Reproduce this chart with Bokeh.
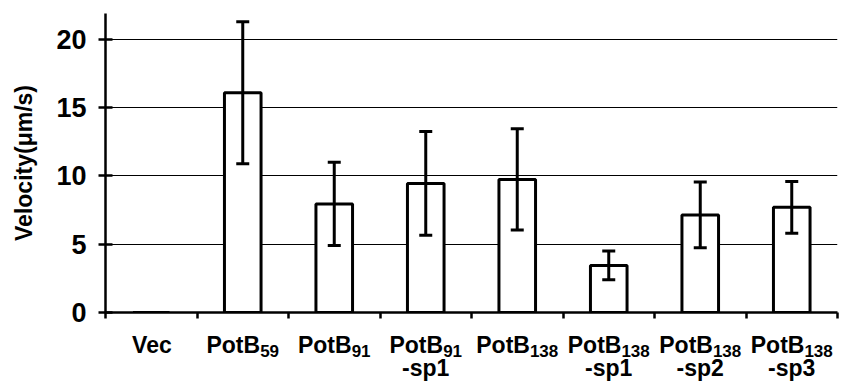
import numpy as np
from bokeh.plotting import figure
from bokeh.layouts import column
from bokeh.models import ColumnDataSource, Range1d, FixedTicker, Whisker, TeeHead
from bokeh.core.properties import value
from bokeh.embed import file_html
from bokeh.resources import INLINE

# ---- data ----
categories = ["Vec", "PotB59", "PotB91", "PotB91-sp1", "PotB138",
              "PotB138-sp1", "PotB138-sp2", "PotB138-sp3"]
label_main = ["Vec", "PotB", "PotB", "PotB", "PotB", "PotB", "PotB", "PotB"]
label_sub = ["", "59", "91", "91", "138", "138", "138", "138"]
label_line2 = ["", "", "", "-sp1", "", "-sp1", "-sp2", "-sp3"]
velocity = [0.0, 16.1, 7.95, 9.45, 9.75, 3.45, 7.15, 7.7]
error = [0.0, 5.2, 3.05, 3.8, 3.7, 1.05, 2.4, 1.9]
y_ticks = [0, 5, 10, 15, 20]
y_max = 21.9

# ---- styles ----
FONT = "Liberation Sans"
MAIN_PX = 23
SUB_PX = 17
ADV = {"P": .667, "o": .611, "t": .333, "B": .722, "V": .667, "e": .556, "c": .556}
for d in "0123456789":
    ADV[d] = .556


def tw(s, px):
    return sum(ADV.get(ch, .556) for ch in s) * px


n = len(categories)
xc = np.arange(n) + 0.5
upper = [v + e for v, e in zip(velocity, error)]
lower = [v - e for v, e in zip(velocity, error)]

src = ColumnDataSource(dict(x=xc, v=velocity, upper=upper, lower=lower))

x_range = Range1d(0, n)
p = figure(width=849, height=330, x_range=x_range, y_range=Range1d(0, y_max),
           output_backend="svg", toolbar_location=None,
           min_border_left=105, min_border_right=12, min_border_top=13, min_border_bottom=18)
p.outline_line_color = None
p.background_fill_color = "white"
p.xgrid.visible = False
p.ygrid.ticker = FixedTicker(ticks=y_ticks[1:])
p.ygrid.grid_line_color = "black"
p.ygrid.grid_line_width = 1.2

# y axis
p.yaxis.ticker = FixedTicker(ticks=y_ticks)
p.yaxis.axis_line_width = 2.5
p.yaxis.axis_line_color = "black"
p.yaxis.major_tick_line_width = 2.5
p.yaxis.major_tick_line_color = "black"
p.yaxis.major_tick_in = 7
p.yaxis.major_tick_out = 7
p.yaxis.minor_tick_line_color = None
p.yaxis.major_label_standoff = 12
p.yaxis.major_label_text_font = FONT
p.yaxis.major_label_text_font_style = "bold"
p.yaxis.major_label_text_font_size = "27px"
p.yaxis.major_label_text_color = "black"
p.yaxis.axis_label = "Velocity(μm/s)"
p.yaxis.axis_label_text_font = FONT
p.yaxis.axis_label_text_font_style = "bold"
p.yaxis.axis_label_text_font_size = "23px"
p.yaxis.axis_label_text_color = "black"
p.yaxis.axis_label_standoff = 16

# x axis (ticks at category boundaries, labels drawn below)
xt = list(range(n + 1))
p.xaxis.ticker = FixedTicker(ticks=xt)
p.xaxis.major_label_overrides = {t: "" for t in xt}
p.xaxis.major_label_text_font_size = "0px"
p.xaxis.major_label_standoff = 0
p.xaxis.axis_line_width = 2.5
p.xaxis.axis_line_color = "black"
p.xaxis.major_tick_line_width = 2.5
p.xaxis.major_tick_line_color = "black"
p.xaxis.major_tick_in = 0
p.xaxis.major_tick_out = 6
p.xaxis.minor_tick_line_color = None

# bars
p.vbar(x="x", top="v", bottom=0, width=0.4, fill_color="white",
       line_color="black", line_width=3, source=src)

# error bars
p.add_layout(Whisker(base="x", upper="upper", lower="lower", source=src,
                     line_width=3, line_color="black", level="annotation",
                     upper_head=TeeHead(size=13, line_width=3, line_color="black"),
                     lower_head=TeeHead(size=13, line_width=3, line_color="black")))

# ---- category labels (separate strip sharing the x range) ----
q = figure(width=849, height=53, x_range=x_range, y_range=Range1d(-1, 0),
           output_backend="svg", toolbar_location=None,
           min_border_left=105, min_border_right=12, min_border_top=0, min_border_bottom=0)
q.axis.visible = False
q.grid.visible = False
q.outline_line_color = None

off = [(tw(m, MAIN_PX) - tw(s, SUB_PX)) / 2 for m, s in zip(label_main, label_sub)]
lab_src = ColumnDataSource(dict(x=xc, y=[0] * n, main=label_main, sub=label_sub,
                                line2=label_line2, off=off))
common = dict(text_font=value(FONT), text_font_style="bold", text_color="black",
              text_baseline="alphabetic", source=lab_src)
q.text(x="x", y="y", text="main", x_offset="off", y_offset=14,
       text_align="right", text_font_size=f"{MAIN_PX}px", **common)
q.text(x="x", y="y", text="sub", x_offset="off", y_offset=20,
       text_align="left", text_font_size=f"{SUB_PX}px", **common)
q.text(x="x", y="y", text="line2", x_offset=0, y_offset=37,
       text_align="center", text_font_size=f"{MAIN_PX}px", **common)

layout = column(p, q, spacing=0)
open("out.html", "w").write(file_html(layout, INLINE))
